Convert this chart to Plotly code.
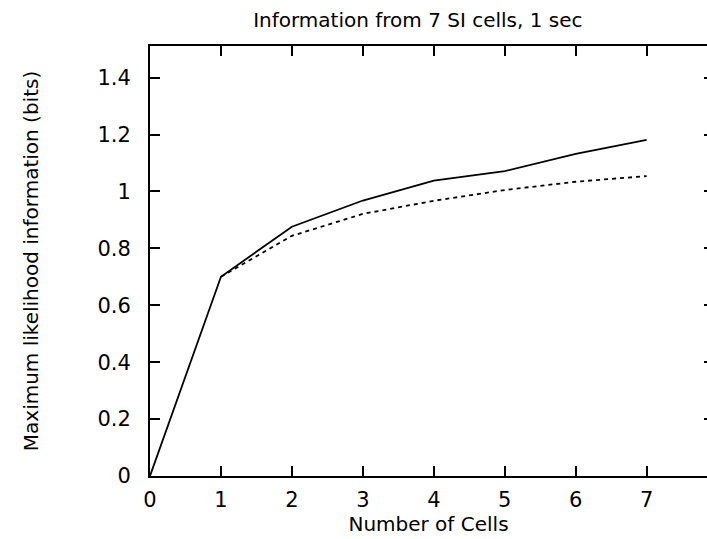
import plotly.graph_objects as go

cells = [0, 1, 2, 3, 4, 5, 6, 7]
info_solid = [0.0, 0.70, 0.876, 0.968, 1.038, 1.071, 1.132, 1.181]
cells_dashed = [1, 2, 3, 4, 5, 6, 7]
info_dashed = [0.70, 0.844, 0.921, 0.967, 1.005, 1.034, 1.054]

x_ticks = [0, 1, 2, 3, 4, 5, 6, 7]
y_ticks = [0, 0.2, 0.4, 0.6, 0.8, 1.0, 1.2, 1.4]
y_ticklabels = ["0", "0.2", "0.4", "0.6", "0.8", "1", "1.2", "1.4"]

FONT = "DejaVu Sans"

fig = go.Figure()
fig.add_trace(go.Scatter(x=cells, y=info_solid, mode="lines",
                         line=dict(color="black", width=1.8), showlegend=False))
fig.add_trace(go.Scatter(x=cells_dashed, y=info_dashed, mode="lines",
                         line=dict(color="black", width=1.8, dash="4px,4px"), showlegend=False))
# invisible trace to anchor right-side ticks
fig.add_trace(go.Scatter(x=[0], y=[0], yaxis="y2", mode="markers",
                         marker=dict(opacity=0), showlegend=False, hoverinfo="skip"))

fig.update_layout(
    width=707, height=539,
    margin=dict(l=150, r=0, t=46, b=63),
    paper_bgcolor="white", plot_bgcolor="white",
    font=dict(family=FONT, size=20, color="black"),
    title=dict(text="Information from 7 SI cells, 1 sec", x=0.591, xanchor="center",
               y=0.962, yanchor="middle", font=dict(family=FONT, size=20, color="black")),
    xaxis=dict(range=[0, 7.85], tickvals=x_ticks, ticktext=[str(v) for v in x_ticks],
               ticks="inside", ticklen=10, tickwidth=1.5, tickcolor="black",
               showline=True, linecolor="black", linewidth=2, mirror="ticks",
               showgrid=False, zeroline=False, ticklabelstandoff=4,
               tickfont=dict(size=21),
               title=dict(text="Number of Cells", standoff=0, font=dict(size=20))),
    yaxis=dict(range=[0, 1.511], tickvals=y_ticks, ticktext=y_ticklabels,
               ticks="inside", ticklen=10, tickwidth=1.5, tickcolor="black",
               showline=True, linecolor="black", linewidth=2,
               showgrid=False, zeroline=False, ticklabelstandoff=13,
               tickfont=dict(size=21),
               title=dict(text="Maximum likelihood information (bits)", standoff=53,
                          font=dict(size=20))),
    yaxis2=dict(range=[0, 1.511], tickvals=y_ticks, overlaying="y", side="right",
                ticks="inside", ticklen=3, tickwidth=1.5, tickcolor="black",
                showticklabels=False, showline=False, showgrid=False, zeroline=False),
)

fig.write_html("out.html")
